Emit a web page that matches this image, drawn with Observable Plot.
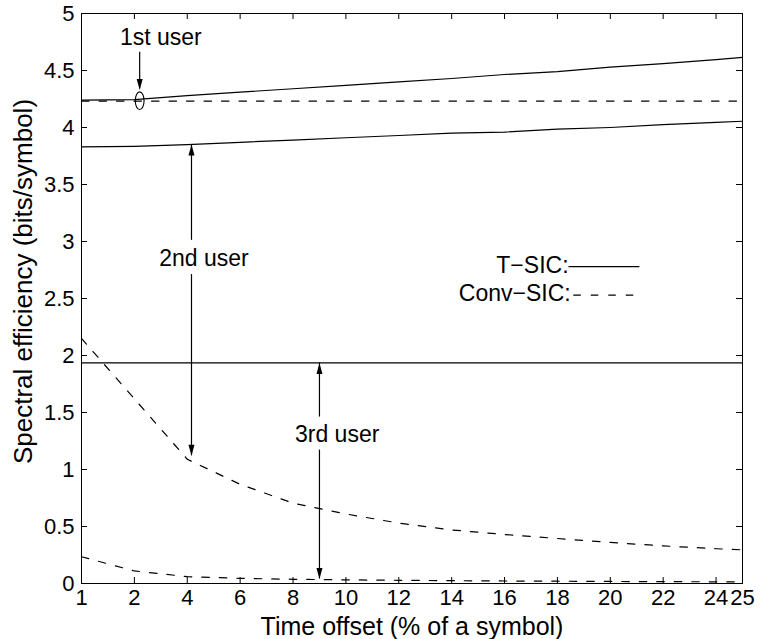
<!DOCTYPE html>
<html>
<head>
<meta charset="utf-8">
<script src="https://cdn.jsdelivr.net/npm/d3@7"></script>
<script src="https://cdn.jsdelivr.net/npm/@observablehq/plot@0.6"></script>
<style>
  html, body { margin: 0; padding: 0; background: #fff; }
</style>
</head>
<body>
<div id="chart"></div>
<script>
// ---- data ----
const xValues   = [1, 2, 4, 6, 8, 10, 12, 14, 16, 18, 20, 22, 24, 25];
const tsicUser1 = [4.24, 4.245, 4.28, 4.31, 4.34, 4.37, 4.40, 4.43, 4.465, 4.49, 4.53, 4.56, 4.595, 4.615];
const convUser1 = [4.232, 4.232, 4.232, 4.232, 4.232, 4.232, 4.232, 4.232, 4.232, 4.232, 4.232, 4.232, 4.232, 4.232];
const tsicUser2 = [3.83, 3.835, 3.85, 3.87, 3.89, 3.91, 3.93, 3.95, 3.96, 3.985, 4.0, 4.025, 4.045, 4.055];
const convUser2 = [2.15, 1.62, 1.09, 0.87, 0.705, 0.61, 0.53, 0.47, 0.43, 0.395, 0.36, 0.33, 0.305, 0.295];
const tsicUser3 = [1.935, 1.935, 1.935, 1.935, 1.935, 1.935, 1.935, 1.935, 1.935, 1.935, 1.935, 1.935, 1.935, 1.935];
const convUser3 = [0.235, 0.11, 0.06, 0.045, 0.037, 0.032, 0.028, 0.025, 0.022, 0.02, 0.018, 0.016, 0.015, 0.015];

const xTicks = [1, 2, 4, 6, 8, 10, 12, 14, 16, 18, 20, 22, 24, 25];
const yTicks = [0, 0.5, 1, 1.5, 2, 2.5, 3, 3.5, 4, 4.5, 5];

const xLabel = "Time offset (% of a symbol)";
const yLabel = "Spectral efficiency (bits/symbol)";

// annotations (data coordinates)
const userLabels  = [
  {x: 3.0,  y: 4.79,  text: "1st user"},
  {x: 4.63, y: 2.85,  text: "2nd user"},
  {x: 9.67, y: 1.307, text: "3rd user"}
];
const arrowShafts = [
  {x: 2.2,  y1: 4.66,  y2: 4.34},
  {x: 4.16, y1: 3.85,  y2: 3.01},
  {x: 4.16, y1: 2.71,  y2: 1.12},
  {x: 9,    y1: 1.935, y2: 1.46},
  {x: 9,    y1: 1.17,  y2: 0.04}
];
const arrowHeads = [
  {x: 2.2,  y: 4.33,  dir: "down"},
  {x: 4.16, y: 3.85,  dir: "up"},
  {x: 4.16, y: 1.12,  dir: "down"},
  {x: 9,    y: 1.935, dir: "up"},
  {x: 9,    y: 0.04,  dir: "down"}
];
const ellipseMarks = [{x: 2.2, y: 4.235}];
const legendLabels = [
  {x: 18.42, y: 2.79, text: "T\u2212SIC:"},
  {x: 18.5,  y: 2.54, text: "Conv\u2212SIC:"}
];
const legendLines = [
  {x1: 18.42, x2: 21.1,  y: 2.78, dashed: false},
  {x1: 18.6,  x2: 20.95, y: 2.53, dashed: true}
];

// ---- build table ----
const series = [
  {name: "T-SIC user 1",    dashed: false, values: tsicUser1},
  {name: "Conv-SIC user 1", dashed: true,  values: convUser1},
  {name: "T-SIC user 2",    dashed: false, values: tsicUser2},
  {name: "Conv-SIC user 2", dashed: true,  values: convUser2},
  {name: "T-SIC user 3",    dashed: false, values: tsicUser3},
  {name: "Conv-SIC user 3", dashed: true,  values: convUser3}
];
const rows = series.flatMap(s => xValues.map((x, i) => ({x, y: s.values[i], series: s.name, dashed: s.dashed})));

// ellipse symbol (custom d3 symbol type)
const ellipseSymbol = {
  draw(context, size) {
    const r = Math.sqrt(size / Math.PI);
    const rx = r * 0.5, ry = r, k = 0.5523;
    context.moveTo(rx, 0);
    context.bezierCurveTo(rx, k * ry, k * rx, ry, 0, ry);
    context.bezierCurveTo(-k * rx, ry, -rx, k * ry, -rx, 0);
    context.bezierCurveTo(-rx, -k * ry, -k * rx, -ry, 0, -ry);
    context.bezierCurveTo(k * rx, -ry, rx, -k * ry, rx, 0);
    context.closePath();
  }
};

const W = 760, H = 639;
const mL = 81, mR = 18, mT = 13, mB = 56;
const frameW = W - mL - mR, frameH = H - mT - mB;
const tickLen = 6;
const dash = "7.5,10";
const font = "'Liberation Sans', Arial, Helvetica, sans-serif";

const chart = Plot.plot({
  width: W,
  height: H,
  marginLeft: mL, marginRight: mR, marginTop: mT, marginBottom: mB,
  style: {fontFamily: font, fontSize: "22px", background: "white", color: "black"},
  x: {type: "linear", domain: [1, 2, 25], range: [mL, mL + frameW / 12.5, W - mR]},
  y: {type: "linear", domain: [0, 5]},
  marks: [
    // inward ticks on all four sides
    Plot.tickX(xTicks, {x: d => d, insetTop: frameH - tickLen, stroke: "black", strokeWidth: 1}),
    Plot.tickX(xTicks, {x: d => d, insetBottom: frameH - tickLen, stroke: "black", strokeWidth: 1}),
    Plot.tickY(yTicks, {y: d => d, insetRight: frameW - tickLen, stroke: "black", strokeWidth: 1}),
    Plot.tickY(yTicks, {y: d => d, insetLeft: frameW - tickLen, stroke: "black", strokeWidth: 1}),
    Plot.axisX(xTicks, {tickSize: 0, tickPadding: 6, tickFormat: d => String(d), fontSize: 22, label: null}),
    Plot.axisY(yTicks, {tickSize: 0, tickPadding: 7, tickFormat: d => String(d), fontSize: 22, label: null}),
    // curves
    Plot.line(rows.filter(d => !d.dashed), {x: "x", y: "y", z: "series", stroke: "black", strokeWidth: 1.2}),
    Plot.line(rows.filter(d => d.dashed), {x: "x", y: "y", z: "series", stroke: "black", strokeWidth: 1.2, strokeDasharray: dash}),
    // annotations
    Plot.ruleX(arrowShafts, {x: "x", y1: "y1", y2: "y2", stroke: "black", strokeWidth: 1.2}),
    Plot.vector(arrowHeads, {x: "x", y: "y", rotate: d => d.dir === "up" ? 0 : 180, length: 11, r: 3, shape: "spike", anchor: "end", fill: "black", stroke: "none"}),
    Plot.dot(ellipseMarks, {x: "x", y: "y", symbol: ellipseSymbol, r: 8.8, stroke: "black", fill: "none", strokeWidth: 1.1}),
    Plot.text(userLabels, {x: "x", y: "y", text: "text", fontSize: 23, fill: "black"}),
    // legend
    Plot.text(legendLabels, {x: "x", y: "y", text: "text", textAnchor: "end", fontSize: 23, fill: "black"}),
    Plot.link(legendLines.filter(d => !d.dashed), {x1: "x1", x2: "x2", y1: "y", y2: "y", stroke: "black", strokeWidth: 1.2}),
    Plot.link(legendLines.filter(d => d.dashed), {x1: "x1", x2: "x2", y1: "y", y2: "y", stroke: "black", strokeWidth: 1.2, strokeDasharray: dash}),
    // axis labels
    Plot.text([xLabel], {frameAnchor: "bottom", dy: 43, textAnchor: "middle", lineAnchor: "middle", fontSize: 25, fill: "black"}),
    Plot.text([yLabel], {frameAnchor: "left", dx: -58, dy: -17, textAnchor: "middle", lineAnchor: "middle", rotate: -90, fontSize: 26, fill: "black"}),
    Plot.frame({stroke: "black", strokeWidth: 1})
  ]
});
document.getElementById("chart").appendChild(chart);
</script>
</body>
</html>
